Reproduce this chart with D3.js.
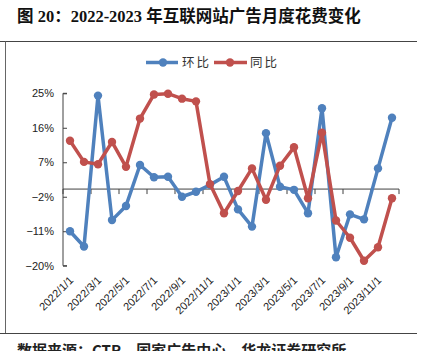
<!DOCTYPE html>
<html><head><meta charset="utf-8">
<script src="https://cdn.jsdelivr.net/npm/d3@7"></script>
<style>body{margin:0;background:#fff}svg{display:block}</style>
</head><body>
<svg id="c" width="433" height="351"></svg>
<script>
const months = ["2022/1/1","2022/2/1","2022/3/1","2022/4/1","2022/5/1","2022/6/1","2022/7/1","2022/8/1","2022/9/1","2022/10/1","2022/11/1","2022/12/1",
"2023/1/1","2023/2/1","2023/3/1","2023/4/1","2023/5/1","2023/6/1","2023/7/1","2023/8/1","2023/9/1","2023/10/1","2023/11/1","2023/12/1"];
const huanbi = [-11.0,-15.0,24.4,-8.1,-4.4,6.3,3.1,3.2,-2.0,-0.7,1.1,3.2,-5.3,-9.8,14.6,0.6,-0.2,-6.3,21.1,-17.8,-6.6,-7.9,5.4,18.6];
const tongbi = [12.6,7.1,6.5,12.3,5.8,18.4,24.7,24.9,23.6,22.9,1.3,-6.3,-0.5,5.4,-2.8,6.1,10.9,-2.4,14.7,-8.2,-12.7,-18.7,-15.2,-2.4];
const yTicks = [-20,-11,-2,7,16,25];
const seriesNames = ["环比","同比"];
const colors = ["#4F81BD","#C0504D"];
const title = "图 20：2022-2023 年互联网站广告月度花费变化";
const source = "数据来源：CTR，国家广告中心，华龙证券研究所";

const svg = d3.select("#c");
const axisColor = "#404040";
const x = d3.scaleBand().domain(months).range([63, 399]);
const y = d3.scaleLinear().domain([-20, 25]).range([265.7, 93.3]);
const cx = d => x(d) + x.bandwidth()/2;

// frame
svg.append("text").attr("x", 17).attr("y", 22)
  .attr("font-family", "'Liberation Serif','Noto Sans CJK SC',serif")
  .attr("font-weight", "bold").attr("font-size", 16.5).attr("fill", "#111").text(title);
svg.append("line").attr("x1",0).attr("x2",417).attr("y1",41.5).attr("y2",41.5).attr("stroke","#444").attr("stroke-width",1);
svg.append("line").attr("x1",5.5).attr("x2",5.5).attr("y1",41.5).attr("y2",333.5).attr("stroke","#666").attr("stroke-width",1);
svg.append("line").attr("x1",0).attr("x2",417).attr("y1",333.5).attr("y2",333.5).attr("stroke","#444").attr("stroke-width",1);
svg.append("text").attr("x", 17).attr("y", 356)
  .attr("font-family", "'Noto Sans CJK SC',sans-serif").attr("font-weight","bold")
  .attr("font-size", 15).attr("fill", "#222").text(source);

// y axis
const yAxis = d3.axisRight(y).tickValues(yTicks).tickSize(4).tickFormat("");
const yg = svg.append("g").attr("transform","translate(63,0)").call(yAxis);
yg.selectAll("path,line").attr("stroke", axisColor);
yg.select("path").attr("d", `M4,${y(25)}H0V${y(-20)}H4`);
svg.selectAll(".ylab").data(yTicks).join("text").attr("class","ylab")
  .attr("x", 54).attr("y", d => y(d)).attr("dy","0.35em")
  .attr("text-anchor","end").attr("font-family","'Liberation Sans',Arial,sans-serif")
  .attr("font-size", 11).attr("fill","#222")
  .text(d => (d < 0 ? "\u2212" + Math.abs(d) : d) + "%");

// x axis at zero
const xAxis = d3.axisBottom(x).tickValues([]).tickSize(0);
const xg = svg.append("g").attr("transform",`translate(0,${y(0)})`).call(xAxis);
xg.select("path").attr("stroke", axisColor).attr("d","M63,0H399");
const bounds = d3.range(0, 25, 2);
svg.selectAll(".xt").data(bounds).join("line").attr("class","xt")
  .attr("x1", i => 63 + i*x.step()).attr("x2", i => 63 + i*x.step())
  .attr("y1", y(0)).attr("y2", y(0)+5).attr("stroke", axisColor);
svg.selectAll(".xlab").data(months.filter((d,i)=>i%2===0)).join("text").attr("class","xlab")
  .attr("transform", d => `translate(${cx(d)+4},${281}) rotate(-45)`)
  .attr("text-anchor","end").attr("font-family","'Liberation Sans',Arial,sans-serif")
  .attr("font-size", 11).attr("fill","#222").text(d => d);

// series
const data = [huanbi, tongbi];
const line = d3.line().x((d,i) => cx(months[i])).y(d => y(d));
data.forEach((vals, k) => {
  const g = svg.append("g");
  g.append("path").datum(vals).attr("d", line).attr("fill","none")
    .attr("stroke", colors[k]).attr("stroke-width", 3.5).attr("stroke-linejoin","round");
  g.selectAll("circle").data(vals).join("circle")
    .attr("cx", (d,i) => cx(months[i])).attr("cy", d => y(d)).attr("r", 4.2).attr("fill", colors[k]);
});

// legend
const leg = [{x1:146,x2:178,m:163,t:182},{x1:214,x2:247,m:230,t:250}];
leg.forEach((L,k) => {
  svg.append("line").attr("x1",L.x1).attr("x2",L.x2).attr("y1",62.5).attr("y2",62.5)
    .attr("stroke",colors[k]).attr("stroke-width",3.5);
  svg.append("circle").attr("cx",L.m).attr("cy",62.5).attr("r",4.2).attr("fill",colors[k]);
  svg.append("text").attr("x",L.t).attr("y",62.5).attr("dy","0.36em")
    .attr("font-family","'Noto Sans CJK SC',sans-serif").attr("font-size",12.5)
    .attr("letter-spacing",2).attr("fill","#333").text(seriesNames[k]);
});
</script>
</body></html>
